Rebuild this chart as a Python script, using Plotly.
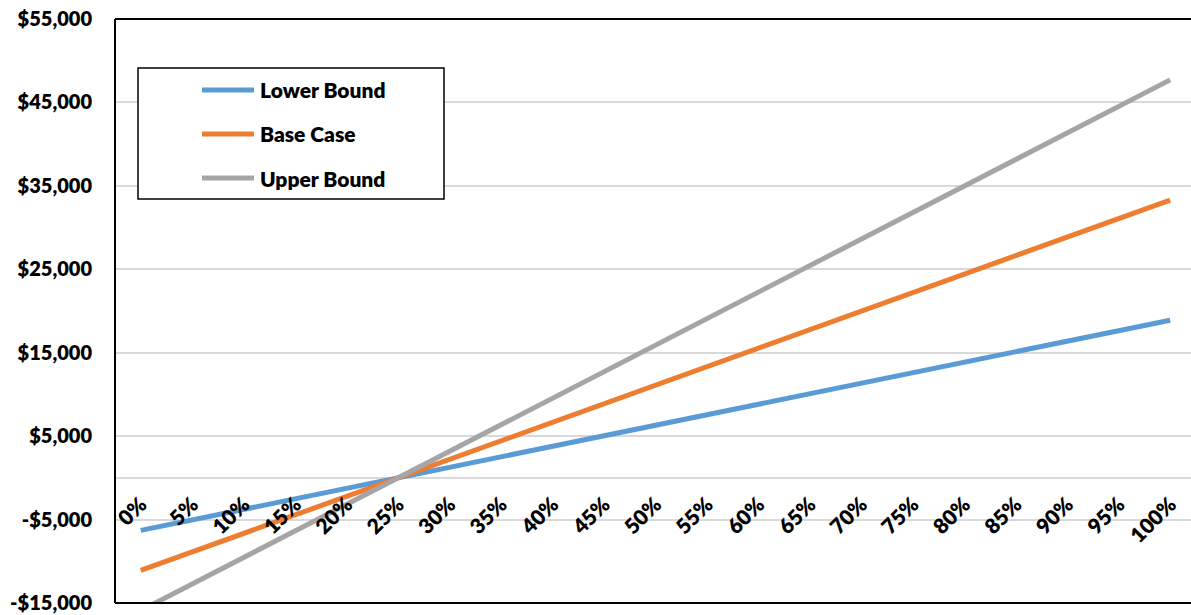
import plotly.graph_objects as go

# ---- data ----
pct = [0, 5, 10, 15, 20, 25, 30, 35, 40, 45, 50, 55, 60, 65, 70, 75, 80, 85, 90, 95, 100]
x_labels = [f"{p}%" for p in pct]
lower_bound = [-6300, -5040, -3780, -2520, -1260, 0, 1260, 2520, 3780, 5040, 6300, 7560, 8820,
               10080, 11340, 12600, 13860, 15120, 16380, 17640, 18900]
base_case = [-11100, -8880, -6660, -4440, -2220, 0, 2220, 4440, 6660, 8880, 11100, 13320, 15540,
             17760, 19980, 22200, 24420, 26640, 28860, 31080, 33300]
upper_bound = [-15900, -12720, -9540, -6360, -3180, 0, 3180, 6360, 9540, 12720, 15900, 19080, 22260,
               25440, 28620, 31800, 34980, 38160, 41340, 44520, 47700]
series_names = ["Lower Bound", "Base Case", "Upper Bound"]
series_colors = ["#5B9BD5", "#ED7D31", "#A5A5A5"]
y_ticks = [-15000, -5000, 5000, 15000, 25000, 35000, 45000, 55000]
y_tick_labels = ["-$15,000", "-$5,000", "$5,000", "$15,000", "$25,000", "$35,000", "$45,000", "$55,000"]

FONT = "Lato"
WEIGHT = 800
W, H = 1191, 615
L, R, T, B = 115, 0, 19, 12
pw, ph = W - L - R, H - T - B

def px(xp):
    return (xp - L) / pw

def py(yp):
    return (H - B - yp) / ph

fig = go.Figure()
for name, vals, col in zip(series_names, [lower_bound, base_case, upper_bound], series_colors):
    fig.add_trace(go.Scatter(x=pct, y=vals, name=name, mode="lines",
                             line=dict(color=col, width=5), showlegend=False))

cat_px = 51.47  # pixels per category
x_max = -2.5 + pw / (cat_px / 5)

fig.update_layout(
    width=W, height=H,
    margin=dict(l=L, r=R, t=T, b=B),
    plot_bgcolor="white", paper_bgcolor="white",
    font=dict(family=FONT, size=20, color="black", weight=WEIGHT),
    xaxis=dict(range=[-2.5, x_max], tickvals=pct, ticktext=x_labels, tickangle=-45,
               anchor="free", position=15000 / 70000, showgrid=False, zeroline=False,
               showline=False, ticks="outside", ticklen=5, tickcolor="rgba(0,0,0,0)",
               tickfont=dict(family=FONT, size=21, color="black", weight=WEIGHT)),
    yaxis=dict(range=[-15000, 55000], tickvals=y_ticks, ticktext=y_tick_labels,
               showgrid=True, gridcolor="#D9D9D9", gridwidth=1.5,
               zeroline=True, zerolinecolor="#D9D9D9", zerolinewidth=1.5,
               showline=False, ticks="outside", ticklen=18, tickcolor="rgba(0,0,0,0)",
               tickfont=dict(family=FONT, size=20, color="black", weight=WEIGHT)),
)

# plot-area border (left, top, bottom)
for x0, y0, x1, y1 in [(0, 0, 0, 1), (0, 1, 1, 1), (0, 0, 1, 0)]:
    fig.add_shape(type="line", xref="paper", yref="paper", x0=x0, y0=y0, x1=x1, y1=y1,
                  line=dict(color="black", width=2))

# legend box
fig.add_shape(type="rect", xref="paper", yref="paper",
              x0=px(138), x1=px(444), y0=py(199), y1=py(68),
              line=dict(color="black", width=1.5), fillcolor="white")
for i, (name, col) in enumerate(zip(series_names, series_colors)):
    yrow = 90 + 44 * i
    fig.add_shape(type="line", xref="paper", yref="paper",
                  x0=px(202), x1=px(254), y0=py(yrow), y1=py(yrow),
                  line=dict(color=col, width=5))
    fig.add_annotation(xref="paper", yref="paper", x=px(258), y=py(yrow), text=name,
                       showarrow=False, xanchor="left", yanchor="middle",
                       font=dict(family=FONT, size=21, color="black", weight=WEIGHT))

fig.write_html("out.html")
